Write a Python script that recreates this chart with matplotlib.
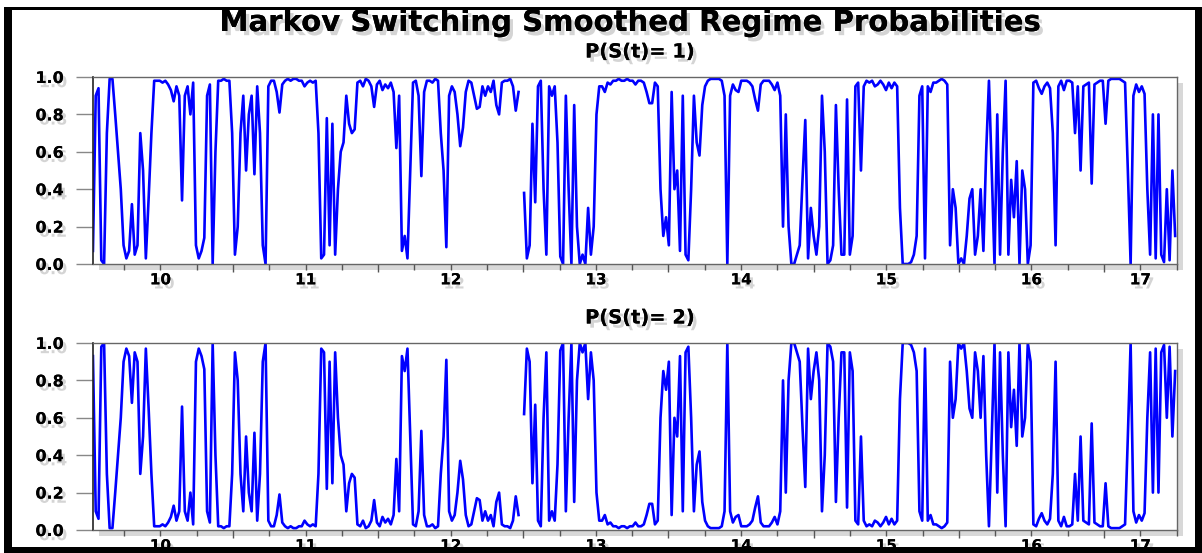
import numpy as np
import pandas as pd
import matplotlib
matplotlib.use("Agg")
import matplotlib.pyplot as plt
from matplotlib import patheffects as pe
from matplotlib.patches import Rectangle

# ---------------- data ----------------
title = "Markov Switching Smoothed Regime Probabilities"
panel_titles = ["P(S(t)= 1)", "P(S(t)= 2)"]
years = [2010, 2011, 2012, 2013, 2014, 2015, 2016, 2017]
year_labels = ["10", "11", "12", "13", "14", "15", "16", "17"]
y_ticks = [0.0, 0.2, 0.4, 0.6, 0.8, 1.0]
y_tick_labels = ["0.0", "0.2", "0.4", "0.6", "0.8", "1.0"]
start_date = "2010-01-14"
freq = "7D"

# smoothed probability of regime 2 (weekly readings), nan = missing
p_regime2 = [
    0.93, 0.10, 0.06, 0.98, 1.00, 0.30, 0.01, 0.01, 0.20, 0.40,
    0.60, 0.90, 0.97, 0.93, 0.68, 0.95, 0.90, 0.30, 0.50, 0.97,
    0.65, 0.30, 0.02, 0.02, 0.02, 0.03, 0.02, 0.04, 0.07, 0.13,
    0.05, 0.10, 0.66, 0.10, 0.05, 0.20, 0.03, 0.90, 0.97, 0.93,
    0.86, 0.10, 0.04, 1.00, 0.40, 0.02, 0.02, 0.01, 0.02, 0.02,
    0.30, 0.95, 0.80, 0.30, 0.10, 0.50, 0.20, 0.10, 0.52, 0.05,
    0.30, 0.90, 1.00, 0.05, 0.02, 0.02, 0.08, 0.19, 0.04, 0.02,
    0.01, 0.02, 0.01, 0.01, 0.02, 0.02, 0.05, 0.03, 0.02, 0.03,
    0.02, 0.30, 0.97, 0.95, 0.22, 0.90, 0.25, 0.95, 0.60, 0.40,
    0.35, 0.10, 0.25, 0.30, 0.28, 0.03, 0.02, 0.05, 0.01, 0.02,
    0.05, 0.16, 0.04, 0.02, 0.07, 0.04, 0.06, 0.03, 0.08, 0.38,
    0.10, 0.93, 0.85, 0.97, 0.50, 0.03, 0.02, 0.10, 0.53, 0.08,
    0.02, 0.02, 0.03, 0.01, 0.02, 0.30, 0.50, 0.91, 0.10, 0.05,
    0.08, 0.20, 0.37, 0.27, 0.08, 0.02, 0.03, 0.10, 0.17, 0.16,
    0.05, 0.10, 0.05, 0.08, 0.02, 0.15, 0.20, 0.03, 0.02, 0.02,
    0.01, 0.05, 0.18, 0.08, np.nan, 0.62, 0.97, 0.90, 0.25, 0.67,
    0.05, 0.02, 0.60, 0.95, 0.05, 0.10, 0.05, 0.35, 0.96, 1.00,
    0.10, 0.60, 1.00, 0.15, 0.80, 1.00, 0.95, 1.00, 0.70, 0.95,
    0.80, 0.20, 0.05, 0.05, 0.08, 0.03, 0.04, 0.02, 0.02, 0.01,
    0.02, 0.02, 0.01, 0.02, 0.02, 0.04, 0.02, 0.02, 0.03, 0.08,
    0.14, 0.14, 0.03, 0.05, 0.60, 0.85, 0.75, 0.90, 0.08, 0.60,
    0.50, 0.93, 0.10, 0.95, 0.98, 0.60, 0.10, 0.35, 0.42, 0.15,
    0.05, 0.02, 0.01, 0.01, 0.01, 0.01, 0.02, 0.10, 1.00, 0.10,
    0.04, 0.07, 0.08, 0.02, 0.02, 0.02, 0.03, 0.05, 0.12, 0.18,
    0.04, 0.02, 0.02, 0.02, 0.04, 0.07, 0.03, 0.10, 0.80, 0.20,
    0.80, 1.00, 1.00, 0.95, 0.90, 0.55, 0.23, 0.97, 0.70, 0.85,
    0.95, 0.80, 0.10, 0.40, 1.00, 0.98, 0.90, 0.15, 0.60, 0.95,
    0.95, 0.12, 0.95, 0.85, 0.05, 0.03, 0.50, 0.05, 0.02, 0.03,
    0.02, 0.05, 0.04, 0.02, 0.04, 0.07, 0.03, 0.06, 0.03, 0.05,
    0.70, 1.00, 1.00, 1.00, 0.99, 0.95, 0.85, 0.10, 0.05, 0.97,
    0.05, 0.08, 0.03, 0.03, 0.02, 0.01, 0.02, 0.04, 0.90, 0.60,
    0.70, 1.00, 0.97, 1.00, 0.85, 0.65, 0.60, 0.95, 0.85, 0.60,
    0.93, 0.40, 0.02, 0.50, 1.00, 0.20, 0.95, 0.40, 0.02, 0.95,
    0.55, 0.75, 0.45, 1.00, 0.50, 0.60, 1.00, 0.90, 0.03, 0.02,
    0.06, 0.09, 0.05, 0.03, 0.06, 0.30, 0.90, 0.05, 0.02, 0.07,
    0.02, 0.02, 0.03, 0.30, 0.05, 0.50, 0.05, 0.04, 0.03, 0.57,
    0.04, 0.03, 0.02, 0.02, 0.25, 0.02, 0.01, 0.01, 0.01, 0.01,
    0.02, 0.03, 0.50, 1.00, 0.10, 0.04, 0.08, 0.05, 0.09, 0.60,
    0.95, 0.20, 0.97, 0.20, 0.95, 0.99, 0.60, 0.98, 0.50, 0.85,
]
# the two regime probabilities sum to one
p_regime1 = [1.0 - v for v in p_regime2]

# ---------------- figure ----------------
W, H = 1202, 553
fig = plt.figure(figsize=(W / 100, H / 100), dpi=100)
fig.patch.set_facecolor("white")

dates = pd.date_range(start_date, periods=len(p_regime2), freq=freq)
t = np.asarray(dates.year + (dates.dayofyear - 1) / (365.0 + dates.is_leap_year))

shadow = [pe.withSimplePatchShadow(offset=(2.5, -3), shadow_rgbFace=(0.45, 0.45, 0.45), alpha=0.3),
          pe.Normal()]

def axes_rect(top_px, bot_px, left_px=93, right_px=1177):
    return [left_px / W, 1 - bot_px / H, (right_px - left_px) / W, (bot_px - top_px) / H]

axes = [fig.add_axes(axes_rect(77, 264)), fig.add_axes(axes_rect(343, 530))]
series = [p_regime1, p_regime2]

quarters = [y + q for y in years for q in (0.0, 0.25, 0.5, 0.75)] + [years[-1] + 1.0]
x_start = 2010.036
x_end = 2017.503

for ax, vals, ptitle in zip(axes, series, panel_titles):
    ax.patch.set_path_effects([pe.withSimplePatchShadow(offset=(4, -4), shadow_rgbFace=(0.5, 0.5, 0.5), alpha=0.3)])
    ax.plot(t, np.asarray(vals, dtype=float), color="#0000FF", lw=1.9, solid_joinstyle="round")
    ax.set_xlim(x_start, x_end)
    ax.set_ylim(0, 1)

    # year boundaries: long ticks, quarters: short ticks with year labels at mid-year
    major = [y for y in years if x_start <= y <= x_end]
    ax.set_xticks(major)
    ax.set_xticklabels([""] * len(major))
    minor = [q for q in quarters if x_start <= q <= x_end + 1e-9 and abs(q - round(q)) > 1e-6]
    mlabels = []
    for q in minor:
        yr = int(np.floor(q))
        frac = q - yr
        lab = year_labels[years.index(yr)]
        if yr < years[-1] and abs(frac - 0.5) < 1e-6:
            mlabels.append(lab)
        elif yr == years[-1] and abs(frac - 0.25) < 1e-6:
            mlabels.append(lab)
        else:
            mlabels.append("")
    ax.set_xticks(minor, minor=True)
    ax.set_xticklabels(mlabels, minor=True)
    ax.tick_params(axis="x", which="major", length=6, width=1, color="#555555", direction="out")
    ax.tick_params(axis="x", which="minor", length=4, width=1, color="#555555", direction="out",
                   pad=2, labelsize=11)
    for lbl in ax.get_xticklabels(minor=True):
        lbl.set_fontweight("bold")
        lbl.set_path_effects(shadow)

    ax.set_yticks(y_ticks)
    ax.set_yticklabels(y_tick_labels)
    ax.tick_params(axis="y", length=12, width=1, color="#888888", direction="out",
                   pad=9, labelsize=11.5)
    for lbl in ax.get_yticklabels():
        lbl.set_fontweight("bold")
        lbl.set_path_effects(shadow)

    for side in ("top", "right", "bottom"):
        ax.spines[side].set_color("#666666")
        ax.spines[side].set_linewidth(1.0)
    ax.spines["left"].set_color("#222222")
    ax.spines["left"].set_linewidth(1.2)

# panel titles
fig.text(640 / W, 1 - 52 / H, panel_titles[0], ha="center", va="center", fontsize=14,
         fontweight="bold", path_effects=shadow)
fig.text(640 / W, 1 - 318 / H, panel_titles[1], ha="center", va="center", fontsize=14,
         fontweight="bold", path_effects=shadow)

# main title
fig.text(630 / W, 1 - 23 / H, title, ha="center", va="center", fontsize=21,
         fontweight="bold", path_effects=shadow)

# black frame around the whole graphic
frame_parts = [
    (4, 7, 8, 544),       # left
    (4, 7, 1198, 3),      # top
    (1195, 7, 7, 546),    # right
    (4, 547, 1198, 6),    # bottom
]
for (x0, y0, w, h) in frame_parts:
    fig.patches.append(Rectangle((x0 / W, 1 - (y0 + h) / H), w / W, h / H,
                                 transform=fig.transFigure, facecolor="black",
                                 edgecolor="none", zorder=5))

fig.savefig("out.png", dpi=100, facecolor="white")
